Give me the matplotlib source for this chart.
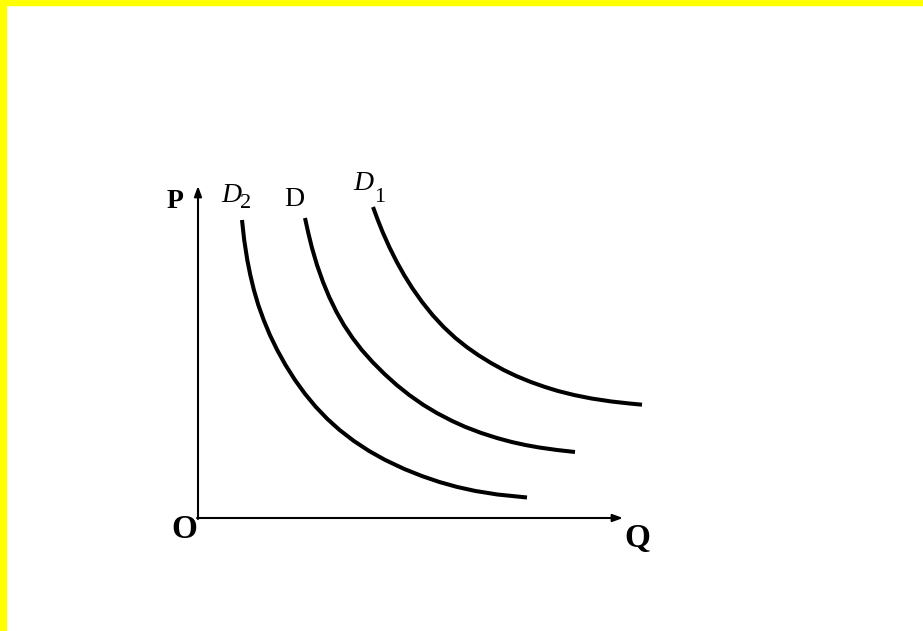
import matplotlib
matplotlib.use("Agg")
import matplotlib.pyplot as plt
from matplotlib.patches import Rectangle

# Curve points (pixel coordinates, y downward)
d2_x = [242, 244.2, 247.3, 250.3, 253.9, 258.3, 263.7, 269.9, 277.2, 285.5, 295.0, 305.1, 315.9,
        327.4, 339.6, 353.9, 369.1, 385.2, 404.3, 421.8, 439.4, 457.3, 475.5, 497.4, 527]
d2_y = [220, 240, 260, 275, 290, 305, 320, 335, 350, 365, 380, 394, 407,
        419, 430, 441, 451, 460, 469, 476, 482, 487, 491, 494.5, 497.5]
d_x = [305, 308.3, 312.0, 317.0, 323.0, 329.2, 336.5, 343.9, 352.6, 361.8, 372.5, 384.5, 396.7,
       409.2, 423.5, 436.8, 452.2, 465.5, 481.3, 496.9, 511.7, 525.3, 539.2, 557.1, 575]
d_y = [218, 233, 248, 265, 282, 297, 312, 325, 338, 350, 362, 374, 385,
       395, 405, 413, 421, 427, 433, 438, 442, 445, 447.5, 450, 452]
d1_x = [373, 377.8, 382.6, 389.3, 396.8, 404.1, 412.2, 422.1, 432.5, 443.6, 455.4, 466.7, 478.1,
        491.0, 503.7, 516.2, 530.8, 545.0, 558, 574, 591.5, 611.5, 629.5, 642]
d1_y = [207, 220, 232, 247, 262, 275, 288, 302, 315, 327, 338, 347, 355,
        363, 370, 376, 382, 387, 391, 395, 398.5, 401.5, 403.5, 404.7]

W, H = 923, 631
fig = plt.figure(figsize=(W / 100, H / 100), dpi=100)
ax = fig.add_axes([0, 0, 1, 1])
ax.set_xlim(0, W)
ax.set_ylim(H, 0)
ax.axis("off")

# yellow border top and left
fig.patches.append(Rectangle((0, 1 - 5 / H), 1, 5 / H, transform=fig.transFigure, color="#ffff00", zorder=0))
fig.patches.append(Rectangle((0, 0), 6 / W, 1, transform=fig.transFigure, color="#ffff00", zorder=0))

# axes
ox, oy = 198, 518
ax.annotate("", xy=(ox, 186), xytext=(ox, oy + 1),
            arrowprops=dict(arrowstyle="-|>,head_length=0.6,head_width=0.22", lw=1.5, color="black", shrinkA=0, shrinkB=0))
ax.annotate("", xy=(623, oy), xytext=(ox - 1, oy),
            arrowprops=dict(arrowstyle="-|>,head_length=0.6,head_width=0.22", lw=1.5, color="black", shrinkA=0, shrinkB=0))

for xs, ys in [(d2_x, d2_y), (d_x, d_y), (d1_x, d1_y)]:
    ax.plot(xs, ys, color="black", lw=2.9, solid_capstyle="butt", solid_joinstyle="round")

serif = "Liberation Serif"
ax.text(175, 201, "P", fontsize=20, fontweight="bold", family=serif, ha="center", va="center")
ax.text(184, 529, "O", fontsize=24, fontweight="bold", family=serif, ha="center", va="center")
ax.text(637, 539, "Q", fontsize=24, fontweight="bold", family=serif, ha="center", va="center")
# D2
ax.text(231, 196, "D", fontsize=20, style="italic", family=serif, ha="center", va="center")
ax.text(246, 204, "2", fontsize=16, family=serif, ha="center", va="center")
# D
ax.text(294, 200, "D", fontsize=20, family=serif, ha="center", va="center")
# D1
ax.text(363, 183, "D", fontsize=20, style="italic", family=serif, ha="center", va="center")
ax.text(380, 197, "1", fontsize=16, family=serif, ha="center", va="center")

fig.savefig("out.png", dpi=100)
